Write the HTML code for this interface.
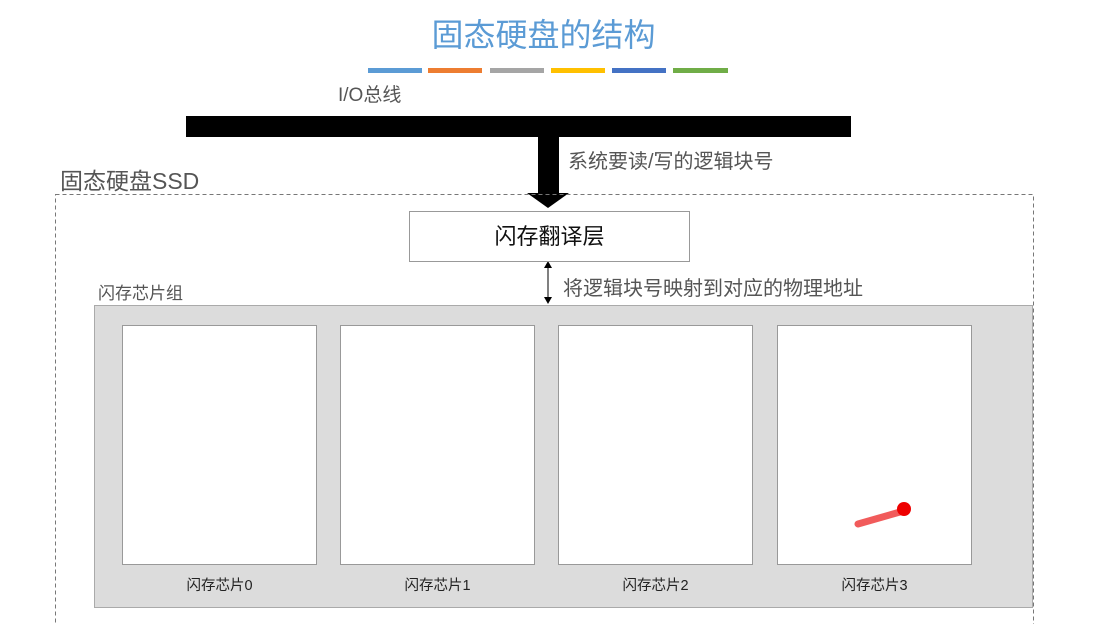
<!DOCTYPE html>
<html><head><meta charset="utf-8"><style>
body{margin:0;width:1101px;height:624px;background:#fff;position:relative;overflow:hidden;font-family:"Liberation Sans","Noto Sans CJK SC",sans-serif;}
.a{position:absolute;white-space:nowrap}
.chip{position:absolute;top:325px;width:193px;height:238px;background:#fff;border:1px solid #999}
.lb{position:absolute;top:574px;font-size:14.5px;color:#222;width:195px;text-align:center}
</style></head><body>
<div class="a" style="left:0;width:1087px;text-align:center;top:10px;font-size:32px;color:#5b9bd5">固态硬盘的结构</div>
<div class="a" style="left:368px;top:68px;width:54px;height:5px;background:#5b9bd5"></div>
<div class="a" style="left:428px;top:68px;width:54px;height:5px;background:#ed7d31"></div>
<div class="a" style="left:490px;top:68px;width:54px;height:5px;background:#a5a5a5"></div>
<div class="a" style="left:551px;top:68px;width:54px;height:5px;background:#ffc000"></div>
<div class="a" style="left:612px;top:68px;width:54px;height:5px;background:#4472c4"></div>
<div class="a" style="left:673px;top:68px;width:55px;height:5px;background:#70ad47"></div>
<div class="a" style="left:338px;top:80px;font-size:19px;color:#555">I/O总线</div>
<div class="a" style="left:186px;top:116px;width:665px;height:21px;background:#000"></div>
<div class="a" style="left:538px;top:116px;width:21px;height:78px;background:#000"></div>
<svg class="a" style="left:0;top:0" width="1101" height="624">
<polygon points="527,193 569,193 548,208" fill="#000"/>
<line x1="548" y1="266" x2="548" y2="299" stroke="#000" stroke-width="1"/>
<polygon points="544,268 552,268 548,261" fill="#000"/>
<polygon points="544,297 552,297 548,304" fill="#000"/>
<rect x="55.5" y="194.5" width="978" height="440" fill="none" stroke="#777" stroke-dasharray="4,3"/>
</svg>
<div class="a" style="left:568px;top:145px;font-size:20px;color:#555">系统要读/写的逻辑块号</div>
<div class="a" style="left:60px;top:162px;font-size:23px;color:#555">固态硬盘SSD</div>
<div class="a" style="left:409px;top:211px;width:279px;height:49px;border:1px solid #999;background:#fff;text-align:center;line-height:49px;font-size:22px;color:#111">闪存翻译层</div>
<div class="a" style="left:563px;top:272px;font-size:20px;color:#555">将逻辑块号映射到对应的物理地址</div>
<div class="a" style="left:98px;top:279px;font-size:17px;color:#555">闪存芯片组</div>
<div class="a" style="left:94px;top:305px;width:937px;height:301px;background:#dcdcdc;border:1px solid #aaa"></div>
<div class="chip" style="left:122px"></div><div class="chip" style="left:340px"></div>
<div class="chip" style="left:558px"></div><div class="chip" style="left:777px"></div>
<div class="lb" style="left:122px">闪存芯片0</div><div class="lb" style="left:340px">闪存芯片1</div>
<div class="lb" style="left:558px">闪存芯片2</div><div class="lb" style="left:777px">闪存芯片3</div>
<svg class="a" style="left:0;top:0" width="1101" height="624">
<line x1="858" y1="524" x2="900" y2="512" stroke="#e33" stroke-width="7" stroke-linecap="round" opacity="0.8"/>
<circle cx="904" cy="509" r="7" fill="#e00"/>
</svg>
</body></html>
